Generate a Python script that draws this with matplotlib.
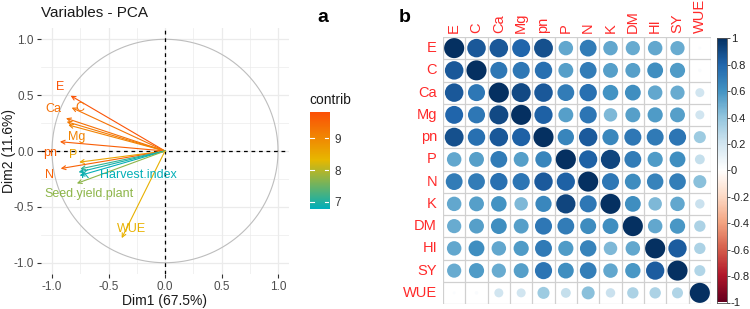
import numpy as np
import matplotlib.pyplot as plt
from matplotlib.colors import LinearSegmentedColormap
from matplotlib.patches import Circle

plt.rcParams["font.family"] = ["Liberation Sans", "DejaVu Sans"]

W, H = 750, 309

# --- panel a: PCA variable coordinates (Dim1, Dim2) and contribution ---
pca_names = ["E", "C", "Ca", "", "Mg", "pn", "P", "N", "", "K",
             "Harvest.index", "Seed.yield.plant", "WUE"]
dim1 = [-0.835, -0.826, -0.876, -0.870, -0.856, -0.930, -0.760, -0.923,
        -0.750, -0.765, -0.755, -0.780, -0.383]
dim2 = [0.495, 0.388, 0.293, 0.262, 0.233, 0.083, -0.100, -0.157,
        -0.160, -0.190, -0.220, -0.290, -0.780]
contrib = [9.75, 9.3, 9.35, 9.2, 9.05, 9.6, 8.6, 9.55, 7.1, 6.9, 6.8, 7.7, 8.4]
contrib_ticks = [7, 8, 9]

# --- panel b: correlation matrix ---
corr_names = ["E", "C", "Ca", "Mg", "pn", "P", "N", "K", "DM", "HI", "SY", "WUE"]
corr = [
    [1.00, .85, .85, .80, .88, .52, .70, .52, .50, .52, .50, .02],
    [.85, 1.00, .72, .72, .75, .55, .70, .55, .55, .62, .57, .03],
    [.85, .72, 1.00, .90, .85, .70, .75, .60, .62, .52, .50, .20],
    [.80, .72, .90, 1.00, .82, .55, .73, .45, .55, .57, .55, .20],
    [.88, .75, .85, .82, 1.00, .66, .84, .65, .72, .71, .73, .36],
    [.52, .55, .70, .55, .66, 1.00, .82, .92, .70, .57, .62, .24],
    [.70, .70, .75, .73, .84, .82, 1.00, .72, .63, .67, .69, .42],
    [.52, .55, .60, .45, .65, .92, .72, 1.00, .62, .45, .52, .22],
    [.50, .55, .62, .55, .72, .70, .63, .62, 1.00, .52, .58, .32],
    [.52, .62, .52, .57, .71, .57, .67, .45, .52, 1.00, .83, .32],
    [.50, .57, .50, .55, .73, .62, .69, .52, .58, .83, 1.00, .30],
    [.02, .03, .20, .20, .36, .24, .42, .22, .32, .32, .30, 1.00],
]
corr_ticks = [1, 0.8, 0.6, 0.4, 0.2, 0, -0.2, -0.4, -0.6, -0.8, -1]

# label placement for panel a (data coords, centre of text)
LABEL_POS = {
    "E": (-0.924, 0.57), "C": (-0.752, 0.388), "Ca": (-0.988, 0.373),
    "Mg": (-0.78, 0.128), "pn": (-1.018, -0.018), "P": (-0.81, -0.036),
    "N": (-1.018, -0.215), "K": (-0.708, -0.215),
    "Harvest.index": (-0.235, -0.215), "Seed.yield.plant": (-0.673, -0.385),
    "WUE": (-0.295, -0.70),
}


def px_axes(fig, x0, y0, x1, y1):
    return fig.add_axes([x0 / W, 1 - y1 / H, (x1 - x0) / W, (y1 - y0) / H])


def ftext(fig, x, y, s, **kw):
    fig.text(x / W, 1 - y / H, s, **kw)


fig = plt.figure(figsize=(7.5, 3.09), dpi=100)
fig.patch.set_facecolor("white")

# ===================== panel a ==========================================
grad = LinearSegmentedColormap.from_list("fviz", ["#00AFBB", "#E7B800", "#FC4E07"])
cmin, cmax = 6.76, 9.84

ax = px_axes(fig, 40.7, 28.1, 289.3, 273.9)
ax.set_xlim(-1.1, 1.1)
ax.set_ylim(-1.1, 1.1)
for s in ax.spines.values():
    s.set_visible(False)
for v in np.arange(-1.0, 1.01, 0.25):
    lw = 0.9 if abs(v * 2 - round(v * 2)) < 1e-6 else 0.5
    ax.axvline(v, color="#EBEBEB", lw=lw, zorder=0)
    ax.axhline(v, color="#EBEBEB", lw=lw, zorder=0)
t = np.linspace(0, 2 * np.pi, 300)
ax.plot(np.cos(t), np.sin(t), color="#BDBDBD", lw=0.8, zorder=1)
ax.axhline(0, color="black", ls=(0, (3, 3)), lw=0.9, zorder=2)
ax.axvline(0, color="black", ls=(0, (3, 3)), lw=0.9, zorder=2)

for name, x, y, c in zip(pca_names, dim1, dim2, contrib):
    col = grad((c - cmin) / (cmax - cmin))
    ax.annotate("", xy=(x, y), xytext=(0, 0),
                arrowprops=dict(arrowstyle="->", color=col, lw=0.8,
                                mutation_scale=7, shrinkA=0, shrinkB=0),
                zorder=3)
    if name:
        lx, ly = LABEL_POS[name]
        ax.text(lx, ly, name, color=col, fontsize=9, ha="center",
                va="center", zorder=4)

ticks = [-1.0, -0.5, 0.0, 0.5, 1.0]
ax.set_xticks(ticks)
ax.set_yticks(ticks)
ax.set_xticklabels([f"{v:.1f}" for v in ticks])
ax.set_yticklabels([f"{v:.1f}" for v in ticks])
ax.tick_params(length=3, width=0.8, color="#333333", labelcolor="#4D4D4D",
               labelsize=8.5, pad=2)
ftext(fig, 165, 301, "Dim1 (67.5%)", fontsize=10, color="#1A1A1A",
      ha="center", va="center")
ftext(fig, 9, 151, "Dim2 (11.6%)", fontsize=10, color="#1A1A1A",
      ha="center", va="center", rotation=90)
ftext(fig, 41, 13, "Variables - PCA", fontsize=11, color="#1A1A1A",
      ha="left", va="center")
ftext(fig, 323, 18, "a", fontsize=14, fontweight="bold", ha="center",
      va="center")

# contrib colour bar
cax = px_axes(fig, 310, 111.7, 329.3, 209.3)
gy = np.linspace(cmin, cmax, 200).reshape(-1, 1)
cax.imshow(gy, cmap=grad, aspect="auto", origin="lower",
           extent=(0, 1, cmin, cmax), vmin=cmin, vmax=cmax)
cax.set_xlim(0, 1)
cax.set_ylim(cmin, cmax)
for tv in contrib_ticks:
    cax.plot([0, 0.2], [tv, tv], color="white", lw=0.8)
    cax.plot([0.8, 1], [tv, tv], color="white", lw=0.8)
cax.set_xticks([])
cax.set_yticks(contrib_ticks)
cax.yaxis.tick_right()
cax.tick_params(length=0, labelsize=8.5, labelcolor="#333333", pad=4)
for s in cax.spines.values():
    s.set_visible(False)
ftext(fig, 309, 100, "contrib", fontsize=10, color="#1A1A1A", ha="left",
      va="center")

# ===================== panel b ==========================================
rdbu = LinearSegmentedColormap.from_list(
    "corrRdBu", ["#67001F", "#B2182B", "#D6604D", "#F4A582", "#FDDBC7",
                 "#FFFFFF", "#D1E5F0", "#92C5DE", "#4393C3", "#2166AC",
                 "#053061"])
n = len(corr_names)
M = np.array(corr)

bx = px_axes(fig, 443, 37, 711, 304)
bx.set_xlim(-0.5, n - 0.5)
bx.set_ylim(n - 0.5, -0.5)
for k in range(n + 1):
    bx.axvline(k - 0.5, color="#D0D0D0", lw=0.9, zorder=0)
    bx.axhline(k - 0.5, color="#D0D0D0", lw=0.9, zorder=0)
for i in range(n):
    for j in range(n):
        r = M[i, j]
        rad = 0.9 * np.sqrt(abs(r)) / 2
        bx.add_patch(Circle((j, i), rad, facecolor=rdbu((r + 1) / 2),
                            edgecolor="none", zorder=2))
bx.set_xticks([])
bx.set_yticks([])
for s in bx.spines.values():
    s.set_visible(False)

red = "#FF2A2A"
for k, name in enumerate(corr_names):
    yc = 37 + (k + 0.5) * 267 / n
    xc = 443 + (k + 0.5) * 268 / n
    ftext(fig, 437, yc, name, color=red, fontsize=10.5, ha="right",
          va="center")
    ftext(fig, xc, 33, name, color=red, fontsize=10.5, ha="center",
          va="bottom", rotation=90)
ftext(fig, 405, 17, "b", fontsize=14, fontweight="bold", ha="center",
      va="center")

# correlation colour bar
kax = px_axes(fig, 717.3, 38.3, 726.7, 302.5)
ky = np.linspace(-1, 1, 300).reshape(-1, 1)
kax.imshow(ky, cmap=rdbu, aspect="auto", origin="lower",
           extent=(0, 1, -1, 1), vmin=-1, vmax=1)
kax.set_xlim(0, 1)
kax.set_ylim(-1, 1)
kax.set_xticks([])
kax.set_yticks(corr_ticks)
kax.set_yticklabels([f"{v:g}".replace("\u2212", "-") for v in corr_ticks])
kax.yaxis.tick_right()
kax.tick_params(length=2.5, width=0.6, color="#333333", labelsize=8,
                labelcolor="#222222", pad=0.5)
for s in kax.spines.values():
    s.set_color("#555555")
    s.set_linewidth(0.6)

fig.savefig("out.png", dpi=100, facecolor="white")
